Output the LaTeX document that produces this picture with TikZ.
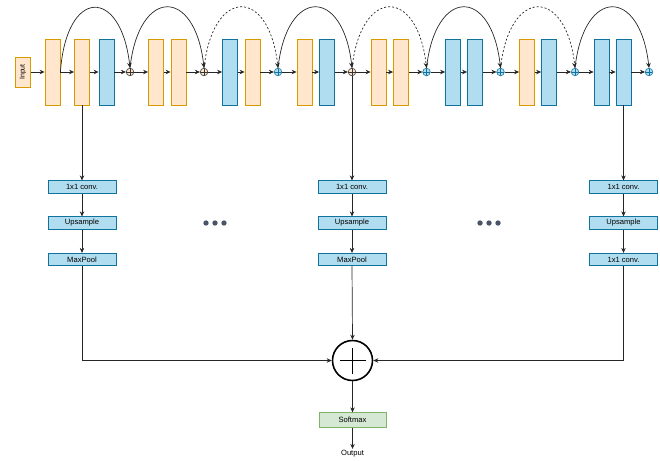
\documentclass[tikz,border=0pt]{standalone}
\usepackage{fontspec}
\setmainfont{Liberation Sans}
\usetikzlibrary{arrows.meta}
\definecolor{ofill}{HTML}{FFE6CC}
\definecolor{oline}{HTML}{D79B00}
\definecolor{bfill}{HTML}{B1DDF0}
\definecolor{bline}{HTML}{10739E}
\definecolor{gfill}{HTML}{D5E8D4}
\definecolor{gline}{HTML}{82B366}
\definecolor{dotc}{HTML}{4A5468}
\begin{document}
\begin{tikzpicture}[x=1pt,y=-1pt,
  blk/.style={draw, minimum width=15pt, minimum height=66pt, inner sep=0pt, line width=0.8pt},
  oblk/.style={blk, fill=ofill, draw=oline},
  bblk/.style={blk, fill=bfill, draw=bline},
  addc/.style={circle, minimum size=7.6pt, inner sep=0pt, line width=0.6pt,
    path picture={\draw[line width=0.6pt] (path picture bounding box.north) -- (path picture bounding box.south)
      (path picture bounding box.west) -- (path picture bounding box.east);}},
  oadd/.style={addc, draw=black!80, fill=ofill},
  badd/.style={addc, draw=bline, fill=bfill},
  box/.style={draw=bline, fill=bfill, minimum width=68pt, minimum height=12.5pt, inner sep=0pt, line width=0.7pt, font=\fontsize{7.6}{8}\selectfont},
  arr/.style={-{Stealth[length=5pt,width=4.5pt]}, line width=0.7pt, draw=black!85},
  darr/.style={arr, dash pattern=on 2pt off 2pt},
  dot/.style={circle, fill=dotc, minimum size=5.4pt, inner sep=0pt}
]
\useasboundingbox (0,0) rectangle (660,460);

% input
\node[draw=oline, fill=ofill, minimum width=14.6pt, minimum height=30pt, inner sep=0pt, line width=0.8pt] (in) at (23,72) {};
\node[rotate=90, font=\fontsize{7}{7}\selectfont, inner sep=0pt] (intext) at (in) {Input};

% row blocks
\foreach \n/\x/\s in {b1/52.5/oblk, b2/82/oblk, b3/106.5/bblk, b4/156/oblk, b5/178.5/oblk,
  b6/230/bblk, b7/252.5/oblk, b8/304.5/oblk, b9/327/bblk, b10/378.5/oblk, b11/401/oblk,
  b12/453/bblk, b13/475/bblk, b14/527/oblk, b15/549/bblk, b16/601.5/bblk, b17/623.5/bblk}
  \node[style=\s] (\n) at (\x,72) {};

% add circles
\foreach \n/\x/\s in {c1/130/oadd, c2/204/oadd, c3/278/badd, c4/352/oadd,
  c5/426.5/badd, c6/500.5/badd, c7/575/badd, c8/649/badd}
  \node[style=\s] (\n) at (\x,72) {};

% chain
\foreach \a/\b in {in/b1, b1/b2, b2/b3, b3/c1, c1/b4, b4/b5, b5/c2, c2/b6, b6/b7, b7/c3,
  c3/b8, b8/b9, b9/c4, c4/b10, b10/b11, b11/c5, c5/b12, b12/b13, b13/c6, c6/b14,
  b14/b15, b15/c7, c7/b16, b16/b17, b17/c8}
  \draw[arr] (\a) -- (\b);

% skip arcs
\draw[arr] (b1.east) .. controls +(6,-85) and +(-9,-81) .. (c1.north);
\draw[arr] (c1.north) .. controls +(9,-81) and +(-9,-81) .. (c2.north);
\draw[darr] (c2.north) .. controls +(9,-81) and +(-9,-81) .. (c3.north);
\draw[arr] (c3.north) .. controls +(9,-81) and +(-9,-81) .. (c4.north);
\draw[darr] (c4.north) .. controls +(9,-81) and +(-9,-81) .. (c5.north);
\draw[arr] (c5.north) .. controls +(9,-81) and +(-9,-81) .. (c6.north);
\draw[darr] (c6.north) .. controls +(9,-81) and +(-9,-81) .. (c7.north);
\draw[arr] (c7.north) .. controls +(9,-81) and +(-9,-81) .. (c8.north);

% lower branches
\node[box] (v1) at (82,187) {1x1 conv.};
\node[box] (u1) at (82,223) {Upsample};
\node[box] (m1) at (82,259.5) {MaxPool};
\node[box] (v2) at (352,187) {1x1 conv.};
\node[box] (u2) at (352,223) {Upsample};
\node[box] (m2) at (352,259.5) {MaxPool};
\node[box] (v3) at (623.5,187) {1x1 conv.};
\node[box] (u3) at (623.5,223) {Upsample};
\node[box] (m3) at (623.5,259.5) {1x1 conv.};

\draw[arr] (b2.south) -- (v1.north);
\draw[arr] (c4.south) -- (v2.north);
\draw[arr] (b17.south) -- (v3.north);
\foreach \i in {1,2,3} {
  \draw[arr] (v\i.south) -- (u\i.north);
  \draw[arr] (u\i.south) -- (m\i.north);
}

% dots
\node[dot] (d1) at (206,223) {};
\node[dot] (d2) at (215,223) {};
\node[dot] (d3) at (224,223) {};
\node[dot] (d4) at (480,223) {};
\node[dot] (d5) at (489,223) {};
\node[dot] (d6) at (498,223) {};

% sum
\node[circle, draw, line width=1.6pt, minimum size=40pt, inner sep=0pt] (plus) at (352.5,360.5) {};
\draw[line width=1.6pt] ([xshift=-13pt]plus.center) -- ([xshift=13pt]plus.center)
  ([yshift=-13pt]plus.center) -- ([yshift=13pt]plus.center);
\draw[arr] (m1.south) |- (plus.west);
\draw[arr] (m2.south) -- (plus.north);
\draw[arr] (m3.south) |- (plus.east);

\node[draw=gline, fill=gfill, minimum width=67pt, minimum height=14.6pt, inner sep=0pt, line width=0.7pt, font=\fontsize{7.6}{8}\selectfont] (sm) at (352.5,420) {Softmax};
\draw[arr] (plus.south) -- (sm.north);
\node[font=\fontsize{7.6}{8}\selectfont, inner sep=1pt] (out) at (352.5,453.5) {Output};
\draw[arr] (sm.south) -- (out.north);
\end{tikzpicture}
\end{document}
